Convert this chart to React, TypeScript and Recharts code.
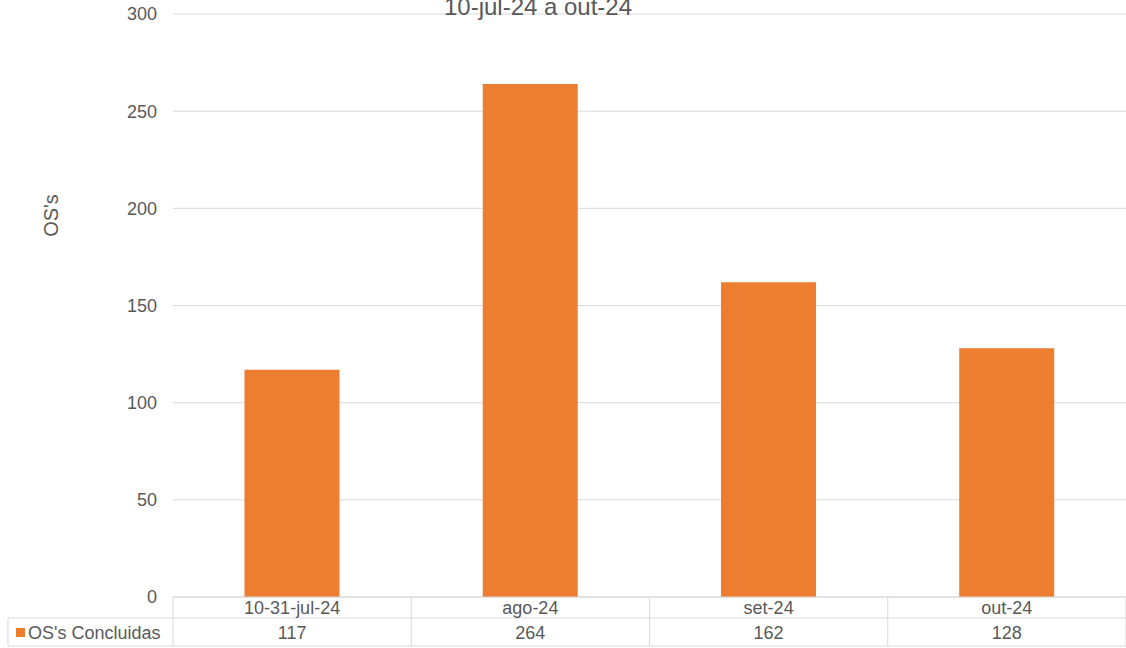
import { BarChart, Bar, XAxis, YAxis, CartesianGrid, Label } from "recharts";

const months = ["10-31-jul-24", "ago-24", "set-24", "out-24"];
const concluidas = [117, 264, 162, 128];
const yTicks = [0, 50, 100, 150, 200, 250, 300];

const seriesName = "OS's Concluidas";
const title = "10-jul-24 a out-24";
const axisTitle = "OS's";

const ORANGE = "#ED7D31";
const TEXT = "#595959";
const LINE = "#D9D9D9";
const FONT = "'Liberation Sans', Arial, sans-serif";

const chartData = months.map((m, i) => ({ month: m, value: concluidas[i] }));

function TableTick(props: any) {
  const { x, y, payload, index } = props;
  const half = payload.offset ?? 0;
  const left = x - half;
  const right = x + half;
  const row1 = y + 21;
  const row2 = y + 49;
  return (
    <g>
      <line x1={left} y1={y} x2={left} y2={row2} stroke={LINE} />
      {index === months.length - 1 && (
        <line x1={right} y1={y} x2={right} y2={row2} stroke={LINE} />
      )}
      <line x1={left} y1={row1} x2={right} y2={row1} stroke={LINE} />
      <line x1={left} y1={row2} x2={right} y2={row2} stroke={LINE} />
      <text x={x} y={y + 17} textAnchor="middle" fill={TEXT} fontSize={18} fontFamily={FONT}>
        {payload.value}
      </text>
      <text x={x} y={y + 42} textAnchor="middle" fill={TEXT} fontSize={18} fontFamily={FONT}>
        {concluidas[index]}
      </text>
      {index === 0 && (
        <g>
          <line x1={8} y1={row1} x2={left} y2={row1} stroke={LINE} />
          <line x1={8} y1={row2} x2={left} y2={row2} stroke={LINE} />
          <line x1={8} y1={row1} x2={8} y2={row2} stroke={LINE} />
          <rect x={16} y={row1 + 10} width={9} height={9} fill={ORANGE} />
          <text x={28} y={y + 42} fill={TEXT} fontSize={18} fontFamily={FONT}>
            {seriesName}
          </text>
        </g>
      )}
    </g>
  );
}

export default function App() {
  return (
    <div style={{ position: "absolute", left: 0, top: 0, width: 1126, height: 648, background: "#fff" }}>
      <BarChart
        width={1126}
        height={648}
        data={chartData}
        margin={{ top: 14, right: 0, bottom: 0, left: 0 }}
        barCategoryGap="30%"
      >
        <CartesianGrid vertical={false} stroke={LINE} />
        <XAxis
          dataKey="month"
          height={51}
          axisLine={{ stroke: LINE }}
          tickLine={false}
          tickSize={0}
          tickMargin={0}
          interval={0}
          tick={<TableTick />}
        />
        <YAxis
          width={173}
          domain={[0, 300]}
          ticks={yTicks}
          axisLine={false}
          tickLine={false}
          tickSize={0}
          tickMargin={16}
          tick={{ fill: TEXT, fontSize: 18, fontFamily: FONT }}
        >
          <Label
            value={axisTitle}
            angle={-90}
            position="insideLeft"
            dx={46}
            dy={-90}
            style={{ fill: TEXT, fontSize: 20, fontFamily: FONT, textAnchor: "middle" }}
          />
        </YAxis>
        <Bar dataKey="value" fill={ORANGE} isAnimationActive={false} />
        <text x={538} y={15} textAnchor="middle" fill={TEXT} fontSize={24} fontFamily={FONT}>
          {title}
        </text>
      </BarChart>
    </div>
  );
}
